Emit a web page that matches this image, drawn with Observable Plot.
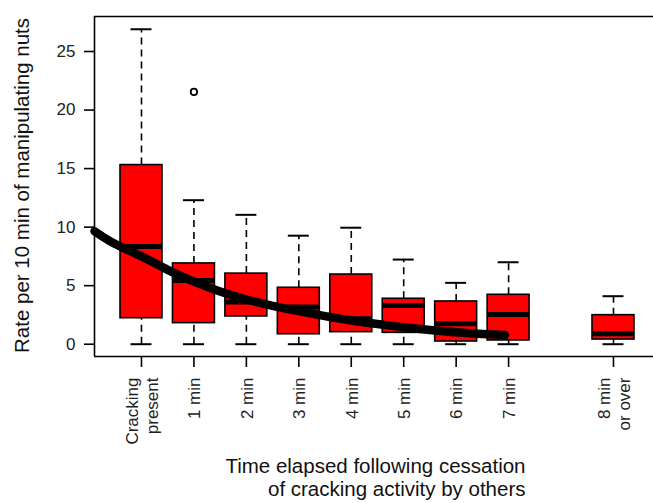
<!DOCTYPE html>
<html>
<head>
<meta charset="utf-8">
<script src="https://cdn.jsdelivr.net/npm/d3@7"></script>
<script src="https://cdn.jsdelivr.net/npm/@observablehq/plot@0.6"></script>
<style>
  html, body { margin: 0; padding: 0; background: #fff; }
</style>
</head>
<body>
<div id="chart"></div>
<script>
// ---- data ----
const categories = ["Cracking\npresent", "1 min", "2 min", "3 min", "4 min", "5 min", "6 min", "7 min", "8 min\nor over"];
const positions  = [1, 2, 3, 4, 5, 6, 7, 8, 10];
const whiskerLow  = [0, 0, 0, 0, 0, 0, 0, 0, 0];
const q1          = [2.22, 1.80, 2.37, 0.85, 1.03, 0.97, 0.23, 0.32, 0.40];
const medians     = [8.34, 5.44, 3.60, 3.18, 2.17, 3.30, 1.74, 2.54, 0.89];
const q3          = [15.3, 6.90, 6.03, 4.82, 5.95, 3.88, 3.65, 4.22, 2.48];
const whiskerHigh = [26.9, 12.3, 11.05, 9.27, 9.95, 7.23, 5.24, 7.00, 4.10];
const outlierPos = [2];
const outlierVal = [21.55];
// fitted decay curve
const fitX = [0.104, 0.5, 1, 1.5, 2, 2.5, 3, 3.5, 4, 4.5, 5, 5.5, 6, 6.5, 7, 7.5, 7.93];
const fitY = [9.65, 8.55, 7.5, 6.35, 5.35, 4.5, 3.82, 3.28, 2.82, 2.4, 2.02, 1.72, 1.45, 1.22, 1.02, 0.87, 0.78];
const yTicks = [0, 5, 10, 15, 20, 25];
const xTitle = "Time elapsed following cessation\nof cracking activity by others";
const yTitle = "Rate per 10 min of manipulating nuts";

// ---- tables built from the arrays ----
const boxes = positions.map((p, i) => ({
  pos: p, label: categories[i], lo: whiskerLow[i], q1: q1[i], med: medians[i], q3: q3[i], hi: whiskerHigh[i]
}));
const outliers = outlierPos.map((p, i) => ({pos: p, v: outlierVal[i]}));
const fit = fitX.map((x, i) => ({x, y: fitY[i]}));
const labelOf = new Map(positions.map((p, i) => [p, categories[i]]));

const half = 0.4, capHalf = 0.2;
const font = "'Liberation Sans', Arial, Helvetica, sans-serif";

const chart = Plot.plot({
  width: 653,
  height: 503,
  marginLeft: 94,
  marginRight: 0,
  marginTop: 16,
  marginBottom: 147,
  style: {fontFamily: font, color: "#000", background: "#fff", overflow: "visible"},
  x: {type: "linear", domain: [0.104, 10.763]},
  y: {type: "linear", domain: [-1.05, 27.99]},
  marks: [
    // whiskers
    Plot.ruleX(boxes, {x: "pos", y1: "q3", y2: "hi", stroke: "#000", strokeWidth: 1.6, strokeDasharray: "7,5"}),
    Plot.ruleX(boxes, {x: "pos", y1: "lo", y2: "q1", stroke: "#000", strokeWidth: 1.6, strokeDasharray: "7,5"}),
    Plot.ruleY(boxes, {y: "hi", x1: d => d.pos - capHalf, x2: d => d.pos + capHalf, stroke: "#000", strokeWidth: 2}),
    Plot.ruleY(boxes, {y: "lo", x1: d => d.pos - capHalf, x2: d => d.pos + capHalf, stroke: "#000", strokeWidth: 2}),
    // boxes
    Plot.rect(boxes, {x1: d => d.pos - half, x2: d => d.pos + half, y1: "q1", y2: "q3", fill: "#ff0000", stroke: "#000", strokeWidth: 1.6}),
    // medians
    Plot.ruleY(boxes, {y: "med", x1: d => d.pos - half, x2: d => d.pos + half, stroke: "#000", strokeWidth: 5}),
    // fitted curve
    Plot.line(fit, {x: "x", y: "y", curve: "natural", stroke: "#000", strokeWidth: 8.5, strokeLinecap: "round"}),
    // outlier
    Plot.dot(outliers, {x: "pos", y: "v", r: 3.2, fill: "#fff", stroke: "#000", strokeWidth: 1.8}),
    // frame (left, top, bottom)
    Plot.ruleX([0.104], {stroke: "#000", strokeWidth: 1.6}),
    Plot.ruleY([27.99], {stroke: "#000", strokeWidth: 1.6}),
    Plot.ruleY([-1.05], {stroke: "#000", strokeWidth: 1.6}),
    // axes
    Plot.axisY({ticks: yTicks, tickSize: 10, tickPadding: 9, fontSize: 17, label: null, strokeWidth: 1.6, fill: "#222"}),
    Plot.axisX({ticks: positions, tickFormat: d => labelOf.get(d), tickRotate: -90, tickSize: 11, tickPadding: 10,
                fontSize: 17, lineHeight: 1.15, label: null, strokeWidth: 1.6, fill: "#222"}),
    // titles
    Plot.text([yTitle], {text: d => d, frameAnchor: "left", rotate: -90, dx: -72, dy: -1, fontSize: 20.5, fill: "#111", textAnchor: "middle", lineAnchor: "middle"}),
    Plot.text([xTitle], {text: d => d, frameAnchor: "bottom", dx: 151.5, dy: 100.4, fontSize: 20.5, lineHeight: 1.12, fill: "#111", textAnchor: "end", lineAnchor: "top"})
  ]
});
document.getElementById("chart").appendChild(chart);
</script>
</body>
</html>
